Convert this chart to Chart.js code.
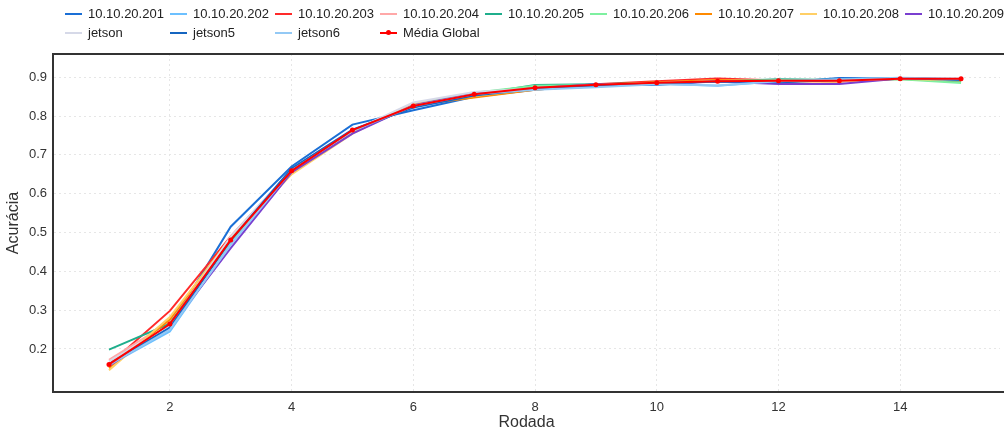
<!DOCTYPE html>
<html>
<head>
<meta charset="utf-8">
<script src="https://cdn.jsdelivr.net/npm/chart.js@4.4.0/dist/chart.umd.min.js"></script>
<style>
  body { margin: 0; background: #fff; font-family: "Liberation Sans", Arial, sans-serif; }
  #wrap { position: relative; width: 1004px; height: 436px; overflow: hidden; }
  #legend { position: absolute; left: 65px; top: 4px; width: 945px; display: flex; flex-wrap: wrap; }
  .item { width: 105px; height: 19px; display: flex; align-items: center; font-size: 13px; color: #222; white-space: nowrap; }
  .swatch { position: relative; width: 17px; height: 2px; margin-right: 6px; }
  .dot { position: absolute; left: 6px; top: -2px; width: 5px; height: 5px; border-radius: 50%; }
</style>
</head>
<body>
<div id="wrap">
  <canvas id="myChart" width="1004" height="436"></canvas>
  <div id="legend"></div>
</div>
<script>
var rounds = [1, 2, 3, 4, 5, 6, 7, 8, 9, 10, 11, 12, 13, 14, 15];
var xTicks = [2, 4, 6, 8, 10, 12, 14];
var yTicks = [0.2, 0.3, 0.4, 0.5, 0.6, 0.7, 0.8, 0.9];

var names = ["10.10.20.201", "10.10.20.202", "10.10.20.203", "10.10.20.204", "10.10.20.205",
  "10.10.20.206", "10.10.20.207", "10.10.20.208", "10.10.20.209", "jetson", "jetson5", "jetson6"];
var colors = ["#1a6fd6", "#6cc0ff", "#ff2a2a", "#ffa8a8", "#1fae8c", "#7ef0a0",
  "#ff8a00", "#ffcf66", "#7a3fd0", "#d6d9e8", "#1565c0", "#93c9f5"];

var s201 = [0.161, 0.258, 0.515, 0.670, 0.778, 0.815, 0.850, 0.868, 0.880, 0.880, 0.892, 0.886, 0.898, 0.897, 0.893];
var s202 = [0.158, 0.245, 0.470, 0.655, 0.760, 0.825, 0.855, 0.870, 0.876, 0.884, 0.878, 0.890, 0.895, 0.898, 0.894];
var s203 = [0.160, 0.298, 0.490, 0.660, 0.760, 0.825, 0.858, 0.872, 0.882, 0.890, 0.897, 0.892, 0.890, 0.896, 0.895];
var s204 = [0.172, 0.270, 0.485, 0.655, 0.758, 0.830, 0.860, 0.874, 0.880, 0.886, 0.893, 0.893, 0.891, 0.895, 0.894];
var s205 = [0.198, 0.265, 0.480, 0.660, 0.762, 0.828, 0.855, 0.880, 0.882, 0.886, 0.889, 0.895, 0.893, 0.896, 0.888];
var s206 = [0.160, 0.262, 0.478, 0.662, 0.760, 0.830, 0.860, 0.878, 0.880, 0.885, 0.890, 0.892, 0.890, 0.895, 0.885];
var s207 = [0.150, 0.276, 0.488, 0.652, 0.758, 0.828, 0.848, 0.868, 0.880, 0.887, 0.893, 0.890, 0.889, 0.897, 0.894];
var s208 = [0.145, 0.282, 0.484, 0.650, 0.755, 0.832, 0.852, 0.870, 0.879, 0.885, 0.890, 0.891, 0.890, 0.896, 0.892];
var s209 = [0.156, 0.255, 0.460, 0.655, 0.755, 0.828, 0.858, 0.872, 0.882, 0.883, 0.889, 0.883, 0.883, 0.897, 0.895];
var jetson = [0.168, 0.260, 0.490, 0.662, 0.762, 0.835, 0.862, 0.872, 0.880, 0.885, 0.890, 0.891, 0.891, 0.897, 0.894];
var jetson5 = [0.160, 0.255, 0.480, 0.665, 0.765, 0.822, 0.853, 0.870, 0.878, 0.884, 0.889, 0.887, 0.893, 0.898, 0.893];
var jetson6 = [0.158, 0.250, 0.468, 0.660, 0.762, 0.826, 0.857, 0.868, 0.874, 0.882, 0.879, 0.890, 0.894, 0.899, 0.896];
var media = [0.160, 0.264, 0.481, 0.659, 0.764, 0.826, 0.856, 0.873, 0.881, 0.886, 0.890, 0.891, 0.891, 0.896, 0.896];

var series = [s201, s202, s203, s204, s205, s206, s207, s208, s209, jetson, jetson5, jetson6];

function toPoints(vals) {
  return vals.map(function (v, i) { return { x: rounds[i], y: v }; });
}

var datasets = series.map(function (vals, i) {
  return {
    label: names[i],
    data: toPoints(vals),
    borderColor: colors[i],
    backgroundColor: colors[i],
    borderWidth: 2,
    pointRadius: 0,
    order: 20 - i
  };
});
datasets.push({
  label: "Média Global",
  data: toPoints(media),
  borderColor: "#ff0000",
  backgroundColor: "#ff0000",
  borderWidth: 2,
  pointRadius: 2.5,
  pointBorderWidth: 0,
  order: 0
});

// top frame line, and bottom line carried to the canvas edge
var frameLines = {
  id: "frameLines",
  afterDraw: function (chart) {
    var a = chart.chartArea, c = chart.ctx;
    c.save();
    c.strokeStyle = "#333";
    c.lineWidth = 2;
    c.beginPath();
    c.moveTo(a.left, a.top);
    c.lineTo(chart.width, a.top);
    c.moveTo(a.right - 2, a.bottom);
    c.lineTo(chart.width, a.bottom);
    c.stroke();
    c.restore();
  }
};

var font = { family: "'Liberation Sans', Arial, sans-serif", size: 13 };

var ctx = document.getElementById("myChart").getContext("2d");
var myChart = new Chart(ctx, {
  type: "line",
  data: { datasets: datasets },
  plugins: [frameLines],
  options: {
    responsive: false,
    animation: false,
    layout: { padding: { top: 54, left: 0, right: 0, bottom: 0 } },
    plugins: { legend: { display: false }, tooltip: { enabled: false } },
    scales: {
      x: {
        type: "linear",
        min: 0.08,
        max: 15.64,
        afterBuildTicks: function (scale) {
          scale.ticks = xTicks.map(function (v) { return { value: v }; });
        },
        afterFit: function (scale) { scale.height = 44; },
        grid: { color: "#e6e6e6", drawTicks: false, lineWidth: 1 },
        border: { color: "#333", width: 2, dash: [2, 3] },
        ticks: { font: font, color: "#333", padding: 8, maxRotation: 0 },
        title: { display: true, text: "Rodada", font: { family: font.family, size: 16 }, color: "#333", padding: { top: 5 } }
      },
      y: {
        min: 0.089,
        max: 0.96,
        afterBuildTicks: function (scale) {
          scale.ticks = yTicks.map(function (v) { return { value: v }; });
        },
        afterFit: function (scale) { scale.width = 53; },
        grid: { color: "#e6e6e6", drawTicks: false, lineWidth: 1 },
        border: { color: "#333", width: 2, dash: [2, 3] },
        ticks: { font: font, color: "#333", padding: 6,
          callback: function (v) { return v.toFixed(1); } },
        title: { display: true, text: "Acurácia", font: { family: font.family, size: 16 }, color: "#333", padding: { bottom: 4 } }
      }
    }
  }
});

// html legend
var legendHtml = [];
names.forEach(function (n, i) {
  legendHtml.push('<div class="item"><span class="swatch" style="background:' + colors[i] + '"></span>' + n + '</div>');
});
legendHtml.push('<div class="item"><span class="swatch" style="background:#ff0000"><span class="dot" style="background:#ff0000"></span></span>Média Global</div>');
document.getElementById("legend").innerHTML = legendHtml.join("");
</script>
</body>
</html>
